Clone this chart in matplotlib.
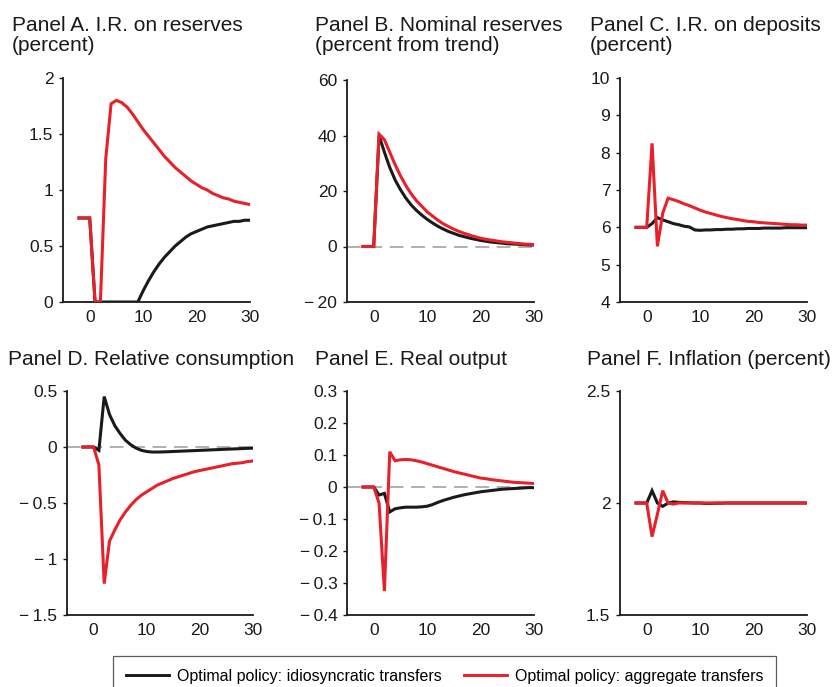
import matplotlib
matplotlib.use("Agg")
import matplotlib.pyplot as plt
import numpy as np

plt.rcParams['font.family'] = ['Liberation Sans', 'DejaVu Sans']

periods = list(range(-2, 31))

# Panel A: interest rate on reserves (percent)
a_idio = [0.75, 0.75, 0.75, 0.0, 0.0, 0.0, 0.0, 0.0, 0.0, 0.0, 0.0, 0.0,
          0.10, 0.19, 0.27, 0.34, 0.40, 0.45, 0.50, 0.54, 0.58, 0.61, 0.63,
          0.65, 0.67, 0.68, 0.69, 0.70, 0.71, 0.72, 0.72, 0.73, 0.73]
a_aggr = [0.75, 0.75, 0.75, 0.0, 0.0, 1.28, 1.77, 1.80, 1.78, 1.74, 1.68, 1.61,
          1.54, 1.48, 1.42, 1.36, 1.30, 1.25, 1.20, 1.16, 1.12, 1.08, 1.05,
          1.02, 1.00, 0.97, 0.95, 0.93, 0.92, 0.90, 0.89, 0.88, 0.87]

# Panel B: nominal reserves (percent from trend)
b_idio = [0, 0, 0, 40.0, 34.0, 28.5, 24.0, 20.5, 17.5, 15.0, 13.0, 11.3,
          9.8, 8.5, 7.3, 6.3, 5.4, 4.7, 4.0, 3.5, 3.0, 2.6, 2.2,
          1.9, 1.6, 1.4, 1.2, 1.0, 0.9, 0.8, 0.7, 0.6, 0.5]
b_aggr = [0, 0, 0, 40.5, 38.5, 34.0, 29.5, 25.5, 22.0, 19.0, 16.5, 14.5,
          12.5, 11.0, 9.5, 8.2, 7.2, 6.2, 5.4, 4.7, 4.1, 3.5, 3.0,
          2.6, 2.3, 2.0, 1.7, 1.5, 1.3, 1.1, 0.9, 0.8, 0.7]

# Panel C: interest rate on deposits (percent)
c_idio = [6.0, 6.0, 6.0, 6.10, 6.26, 6.20, 6.15, 6.10, 6.07, 6.03, 6.01, 5.93,
          5.92, 5.93, 5.93, 5.94, 5.94, 5.95, 5.95, 5.96, 5.96, 5.97, 5.97,
          5.97, 5.98, 5.98, 5.98, 5.98, 5.99, 5.99, 5.99, 5.99, 5.99]
c_aggr = [6.0, 6.0, 6.0, 8.25, 5.49, 6.38, 6.78, 6.74, 6.69, 6.63, 6.58, 6.52,
          6.46, 6.41, 6.37, 6.33, 6.29, 6.26, 6.23, 6.21, 6.18, 6.16, 6.15,
          6.13, 6.12, 6.11, 6.10, 6.09, 6.08, 6.07, 6.07, 6.06, 6.06]

# Panel D: relative consumption
d_idio = [0, 0, 0, -0.03, 0.45, 0.29, 0.19, 0.12, 0.06, 0.02, -0.01, -0.03,
          -0.04, -0.045, -0.045, -0.044, -0.042, -0.040, -0.038, -0.036, -0.034, -0.032, -0.030,
          -0.028, -0.026, -0.024, -0.022, -0.020, -0.018, -0.016, -0.014, -0.012, -0.010]
d_aggr = [0, 0, 0, -0.16, -1.22, -0.84, -0.74, -0.65, -0.58, -0.52, -0.47, -0.43,
          -0.40, -0.37, -0.34, -0.32, -0.30, -0.28, -0.265, -0.25, -0.235, -0.22, -0.21,
          -0.20, -0.19, -0.18, -0.17, -0.16, -0.15, -0.145, -0.14, -0.13, -0.125]

# Panel E: real output
e_idio = [0, 0, 0, -0.025, -0.020, -0.078, -0.068, -0.065, -0.063, -0.063, -0.063, -0.062,
          -0.060, -0.055, -0.048, -0.042, -0.037, -0.032, -0.028, -0.024, -0.021, -0.018, -0.015,
          -0.013, -0.011, -0.009, -0.007, -0.006, -0.005, -0.004, -0.003, -0.002, -0.002]
e_aggr = [0, 0, 0, -0.05, -0.325, 0.110, 0.082, 0.085, 0.086, 0.085, 0.082, 0.078,
          0.073, 0.068, 0.063, 0.058, 0.053, 0.048, 0.044, 0.040, 0.036, 0.032, 0.028,
          0.026, 0.023, 0.021, 0.019, 0.017, 0.015, 0.014, 0.013, 0.012, 0.011]

# Panel F: inflation (percent)
f_idio = [2.0, 2.0, 2.0, 2.055, 2.0, 1.985, 2.0, 2.005, 2.003, 2.002, 2.001, 2.0,
          2.0, 1.998, 1.998, 1.999, 1.999, 2.0, 2.0, 2.0, 2.0, 2.0, 2.0,
          2.0, 2.0, 2.0, 2.0, 2.0, 2.0, 2.0, 2.0, 2.0, 2.0]
f_aggr = [2.0, 2.0, 2.0, 1.85, 1.95, 2.055, 2.0, 1.995, 2.0, 2.0, 2.0, 2.0,
          2.0, 2.0, 2.0, 2.0, 2.0, 2.0, 2.0, 2.0, 2.0, 2.0, 2.0,
          2.0, 2.0, 2.0, 2.0, 2.0, 2.0, 2.0, 2.0, 2.0, 2.0]

titles = [("Panel A. I.R. on reserves", "(percent)"),
          ("Panel B. Nominal reserves", "(percent from trend)"),
          ("Panel C. I.R. on deposits", "(percent)"),
          ("Panel D. Relative consumption", None),
          ("Panel E. Real output", None),
          ("Panel F. Inflation (percent)", None)]

M = "\u2212\u2009"
yticks = [[0, 0.5, 1, 1.5, 2],
          [-20, 0, 20, 40, 60],
          [4, 5, 6, 7, 8, 9, 10],
          [-1.5, -1, -0.5, 0, 0.5],
          [-0.4, -0.3, -0.2, -0.1, 0, 0.1, 0.2, 0.3],
          [1.5, 2, 2.5]]
yticklabels = [["0", "0.5", "1", "1.5", "2"],
               [M + "20", "0", "20", "40", "60"],
               ["4", "5", "6", "7", "8", "9", "10"],
               [M + "1.5", M + "1", M + "0.5", "0", "0.5"],
               [M + "0.4", M + "0.3", M + "0.2", M + "0.1", "0", "0.1", "0.2", "0.3"],
               ["1.5", "2", "2.5"]]
xticks = [0, 10, 20, 30]
zero_line = [True, True, False, True, True, False]
legend_labels = ["Optimal policy: idiosyncratic transfers",
                 "Optimal policy: aggregate transfers"]

series = [(a_idio, a_aggr), (b_idio, b_aggr), (c_idio, c_aggr),
          (d_idio, d_aggr), (e_idio, e_aggr), (f_idio, f_aggr)]

W, H = 840, 687
fig = plt.figure(figsize=(W / 100, H / 100), dpi=100)

# axes boxes in pixels: left, top, right, bottom
boxes = [(63, 78, 250, 302), (347, 80, 534, 302), (620, 78, 807, 302),
         (67, 391, 253, 615), (347, 391, 534, 615), (620, 391, 807, 615)]
title_pos = [(12, 31, 51), (315, 31, 51), (590, 31, 51),
             (8, 365, None), (315, 365, None), (587, 365, None)]

BLACK = '#1a1a1a'
RED = '#e8202a'

handles = None
for i in range(6):
    l, t, r, b = boxes[i]
    ax = fig.add_axes([l / W, 1 - b / H, (r - l) / W, (b - t) / H])
    idio, aggr = series[i]
    if zero_line[i]:
        ax.axhline(0, color='#9a9a9a', lw=1.1, dashes=(9, 5), zorder=1)
    h1, = ax.plot(periods, idio, color=BLACK, lw=2.2, zorder=3, solid_joinstyle='miter')
    h2, = ax.plot(periods, aggr, color=RED, lw=2.2, zorder=4, solid_joinstyle='miter')
    handles = [h1, h2]
    ax.set_xlim(-5, 30)
    ax.set_ylim(yticks[i][0], yticks[i][-1])
    ax.set_yticks(yticks[i])
    ax.set_yticklabels(yticklabels[i])
    ax.set_xticks(xticks)
    for s in ['top', 'right']:
        ax.spines[s].set_visible(False)
    for s in ['left', 'bottom']:
        ax.spines[s].set_linewidth(1.3)
        ax.spines[s].set_color(BLACK)
    ax.tick_params(axis='y', length=3, width=1, pad=4, labelsize=12.5, colors=BLACK)
    ax.tick_params(axis='x', length=0, pad=6, labelsize=12.5, colors=BLACK)
    ax.patch.set_visible(False)

    tx, ty1, ty2 = title_pos[i]
    t1, t2 = titles[i]
    fig.text(tx / W, 1 - ty1 / H, t1, fontsize=15, va='baseline', ha='left', color=BLACK)
    if t2:
        fig.text(tx / W, 1 - ty2 / H, t2, fontsize=15, va='baseline', ha='left', color=BLACK)

leg = fig.legend(handles, legend_labels, loc='upper left',
                 bbox_to_anchor=(113 / W, 1 - 656 / H), bbox_transform=fig.transFigure,
                 ncol=2, fontsize=11.5, frameon=True, fancybox=False,
                 edgecolor='#333333', borderaxespad=0, borderpad=0.8,
                 handlelength=2.7, handletextpad=0.5, columnspacing=1.4)
leg.get_frame().set_linewidth(0.9)
for lh in leg.get_lines():
    lh.set_linewidth(2.1)

fig.savefig('out.png', dpi=100)
